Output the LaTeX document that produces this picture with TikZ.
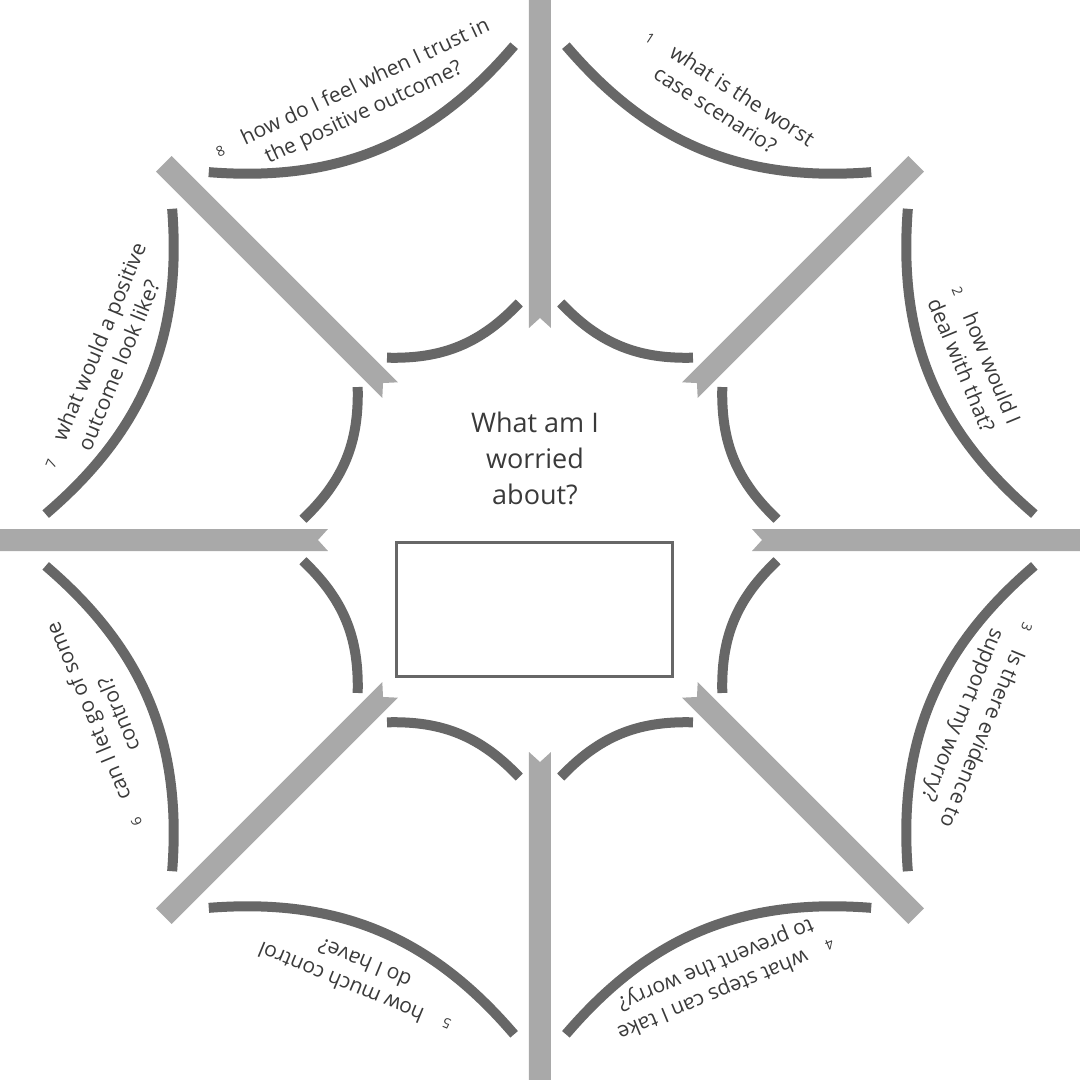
\documentclass[tikz,border=0pt]{standalone}
\usepackage{fontspec}
\setmainfont{Open Sans}
\definecolor{spokegray}{HTML}{A9A9A9}
\definecolor{threadgray}{HTML}{676767}
\definecolor{textgray}{HTML}{3A3A3A}
\newcommand{\qnum}{\fontsize{14}{14}\selectfont}
\tikzset{
  spoke/.style={fill=spokegray, draw=none},
  thread/.style={draw=threadgray, line width=10pt, line cap=butt},
  question/.style={align=center, font=\fontsize{21}{27}\selectfont, text=textgray, inner sep=0pt}
}
\begin{document}
\begin{tikzpicture}[x=1pt,y=1pt]
  \useasboundingbox (-540,-540) rectangle (540,540);
  \clip (-540,-540) rectangle (540,540);

  % spokes
  \foreach \a/\rr in {90/545, 45/532, 0/545, -45/532, -90/545, -135/532, 180/545, 135/532}
  {
    \fill[spoke, rotate=\a] (212,-11) -- (\rr,-11) -- (\rr,11) -- (212,11) -- (222,0) -- cycle;
  }

  % outer and inner threads
  \foreach \a in {0, 45, 90, 135, 180, 225, 270, 315}
  {
    \pgfmathsetmacro{\b}{\a + 45}
    \draw[thread] (\a+3:495) to[bend left=27] (\b-3:495);
    \draw[thread] (\a+5:238) to[bend left=24] (\b-5:238);
  }

  % centre
  \node[font=\fontsize{27}{36}\selectfont, text=textgray, align=center] (worry) at (-5,82) {What am I\\worried\\about?};
  \draw[threadgray, line width=3pt] (-143,-2) rectangle (133,-136);

  % questions
  \node[question, rotate=-33] (q1) at (67.5:478) {{\qnum 1}\quad what is the worst\\case scenario?};
  \node[question, rotate=-67.5] (q2) at (22.5:470) {{\qnum 2}\quad how would I\\deal with that?};
  \node[question, rotate=-112.5] (q3) at (-22.5:470) {{\qnum 3}\quad Is there evidence to\\support my worry?};
  \node[question, rotate=-157.5] (q4) at (-67.5:472) {{\qnum 4}\quad what steps can I take\\to prevent the worry?};
  \node[question, rotate=157.5] (q5) at (-112.5:472) {{\qnum 5}\quad how much control\\do I have?};
  \node[question, rotate=112.5] (q6) at (-157.5:470) {{\qnum 6}\quad can I let go of some\\control?};
  \node[question, rotate=67.5] (q7) at (157.5:470) {{\qnum 7}\quad what would a positive\\outcome look like?};
  \node[question, rotate=25] (q8) at (112.5:475) {{\qnum 8}\quad how do I feel when I trust in\\the positive outcome?};
\end{tikzpicture}
\end{document}
